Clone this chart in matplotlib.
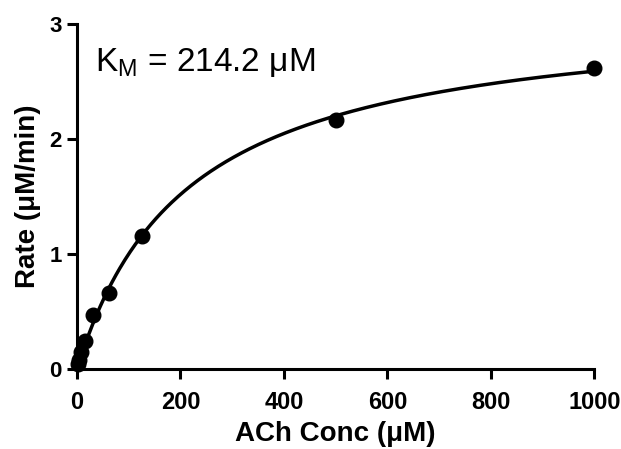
import numpy as np
import matplotlib
matplotlib.use("Agg")
import matplotlib.pyplot as plt

plt.rcParams['font.family'] = ['Liberation Sans', 'DejaVu Sans']
plt.rcParams['mathtext.fontset'] = 'custom'
plt.rcParams['mathtext.rm'] = 'Liberation Sans'

# data
conc = [1.95, 3.9, 7.8, 15.6, 31.25, 62.5, 125, 500, 1000]
rate = [0.04, 0.08, 0.15, 0.24, 0.47, 0.66, 1.16, 2.16, 2.62]
km = 214.2

# Vmax for fixed Km (least squares)
x = np.array(conc)
y = np.array(rate)
f = x / (km + x)
vmax = np.sum(y * f) / np.sum(f * f)

xs = np.linspace(0, 1000, 400)
ys = vmax * xs / (km + xs)

fig = plt.figure(figsize=(6.21, 4.49), dpi=100)
ax = fig.add_axes([0.124, 0.178, 0.833, 0.769])

ax.plot(xs, ys, color='black', lw=2.5, zorder=2)
ax.plot(conc, rate, 'o', color='black', ms=10.5, zorder=3, clip_on=False)

ax.set_xlim(0, 1000)
ax.set_ylim(0, 3)
ax.set_xticks([0, 200, 400, 600, 800, 1000])
ax.set_yticks([0, 1, 2, 3])

for s in ['top', 'right']:
    ax.spines[s].set_visible(False)
for s in ['left', 'bottom']:
    ax.spines[s].set_linewidth(2.2)

ax.tick_params(width=2.2, length=7, labelsize=16)
ax.tick_params(axis='x', pad=9, labelsize=17)
ax.tick_params(axis='y', pad=4)
for lab in ax.get_xticklabels() + ax.get_yticklabels():
    lab.set_fontweight('bold')

ax.set_xlabel('ACh Conc (μM)', fontsize=20, fontweight='bold', labelpad=5)
ax.set_ylabel('Rate (μM/min)', fontsize=20, fontweight='bold', labelpad=6)

ax.text(35, 2.66, r'K$_\mathregular{M}$ = 214.2 μM', fontsize=24, va='center', ha='left')

fig.savefig('out.png', dpi=100)
